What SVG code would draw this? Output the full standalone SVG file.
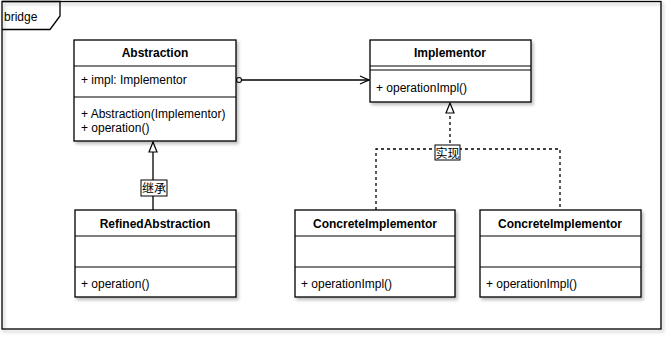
<svg xmlns="http://www.w3.org/2000/svg" width="672" height="342" viewBox="0 0 672 342">
  <style>
    .box { fill: #ffffff; stroke: #000000; stroke-width: 1.3; }
    .sep { stroke: #000000; stroke-width: 1.1; fill: none; }
    .title { font-family: "Liberation Sans", Arial, sans-serif; font-size: 12px; font-weight: bold; text-anchor: middle; fill: #000; }
    .member { font-family: "Liberation Sans", Arial, sans-serif; font-size: 12px; fill: #000; }
    .frame { fill: none; stroke: #000; stroke-width: 1.3; }
    .edge { stroke: #000; stroke-width: 1.3; fill: none; }
    .dashed { stroke: #000; stroke-width: 1.3; fill: none; stroke-dasharray: 3 3; }
    .lbl { font-family: "Liberation Sans", "Noto Sans CJK SC", sans-serif; font-size: 12px; text-anchor: middle; fill: #000; }
    .lblbox { fill: #fff; stroke: #000; stroke-width: 1; }
  </style>
  <defs>
    <filter id="shadow" x="-10%" y="-10%" width="130%" height="130%">
      <feDropShadow dx="2" dy="2.5" stdDeviation="1.5" flood-color="#000" flood-opacity="0.25"/>
    </filter>
    <marker id="hollowTri" markerWidth="12" markerHeight="12" refX="11" refY="5" orient="auto" markerUnits="userSpaceOnUse">
      <path d="M1,1 L11,5 L1,9 Z" fill="#fff" stroke="#000" stroke-width="1.2"/>
    </marker>
    <marker id="openArrow" markerWidth="12" markerHeight="12" refX="10" refY="5" orient="auto" markerUnits="userSpaceOnUse">
      <path d="M1,1 L10,5 L1,9" fill="none" stroke="#000" stroke-width="1.3"/>
    </marker>
    <marker id="circleStart" markerWidth="8" markerHeight="8" refX="1" refY="4" orient="auto" markerUnits="userSpaceOnUse">
      <circle cx="4" cy="4" r="2.5" fill="#fff" stroke="#000" stroke-width="1.1"/>
    </marker>
  </defs>

  <rect width="672" height="342" fill="#ffffff"/>

  <g id="frame">
    <rect class="frame" x="2" y="1.5" width="659" height="327.5" filter="url(#shadow)" fill="#fff"/>
    <path class="frame" d="M2,1.5 L60,1.5 L60,16 L50,29.5 L2,29.5" fill="#fff"/>
    <text x="4" y="21" font-family="'Liberation Sans', Arial, sans-serif" font-size="12">bridge</text>
  </g>

  <g id="connectors">
    <path class="edge" d="M236,80 L369,80" marker-start="url(#circleStart)" marker-end="url(#openArrow)"/>
    <path class="edge" d="M153,210 L153,142" marker-end="url(#hollowTri)"/>
    <path class="dashed" d="M450,149 L450,103" marker-end="url(#hollowTri)"/>
    <path class="dashed" d="M376,210 L376,149 L560,149 L560,210"/>
    <g id="label-inherit">
      <rect class="lblbox" x="141" y="180" width="26" height="16"/>
      <text class="lbl" x="154" y="193">继承</text>
    </g>
    <g id="label-realize">
      <rect class="lblbox" x="435" y="145" width="25" height="15"/>
      <text class="lbl" x="447.5" y="157.5">实现</text>
    </g>
  </g>

  <g id="Abstraction">
    <rect class="box" x="74" y="40" width="162" height="101" filter="url(#shadow)"/>
    <line class="sep" x1="74" y1="66" x2="236" y2="66"/>
    <line class="sep" x1="74" y1="97" x2="236" y2="97"/>
    <text class="title" x="155" y="57">Abstraction</text>
    <text class="member" x="81" y="84">+ impl: Implementor</text>
    <text class="member" x="81" y="118">+ Abstraction(Implementor)</text>
    <text class="member" x="81" y="132">+ operation()</text>
  </g>

  <g id="Implementor">
    <rect class="box" x="370" y="40" width="161" height="62" filter="url(#shadow)"/>
    <line class="sep" x1="370" y1="66" x2="531" y2="66"/>
    <line class="sep" x1="370" y1="70" x2="531" y2="70"/>
    <text class="title" x="450" y="57">Implementor</text>
    <text class="member" x="376" y="92">+ operationImpl()</text>
  </g>

  <g id="RefinedAbstraction">
    <rect class="box" x="75" y="210" width="161" height="87" filter="url(#shadow)"/>
    <line class="sep" x1="75" y1="236" x2="236" y2="236"/>
    <line class="sep" x1="75" y1="267" x2="236" y2="267"/>
    <text class="title" x="155" y="228">RefinedAbstraction</text>
    <text class="member" x="81" y="288">+ operation()</text>
  </g>

  <g id="ConcreteImplementor1">
    <rect class="box" x="295" y="210" width="160" height="87" filter="url(#shadow)"/>
    <line class="sep" x1="295" y1="236" x2="455" y2="236"/>
    <line class="sep" x1="295" y1="267" x2="455" y2="267"/>
    <text class="title" x="375" y="228">ConcreteImplementor</text>
    <text class="member" x="301" y="288">+ operationImpl()</text>
  </g>

  <g id="ConcreteImplementor2">
    <rect class="box" x="480" y="210" width="161" height="87" filter="url(#shadow)"/>
    <line class="sep" x1="480" y1="236" x2="641" y2="236"/>
    <line class="sep" x1="480" y1="267" x2="641" y2="267"/>
    <text class="title" x="560" y="228">ConcreteImplementor</text>
    <text class="member" x="486" y="288">+ operationImpl()</text>
  </g>
</svg>
